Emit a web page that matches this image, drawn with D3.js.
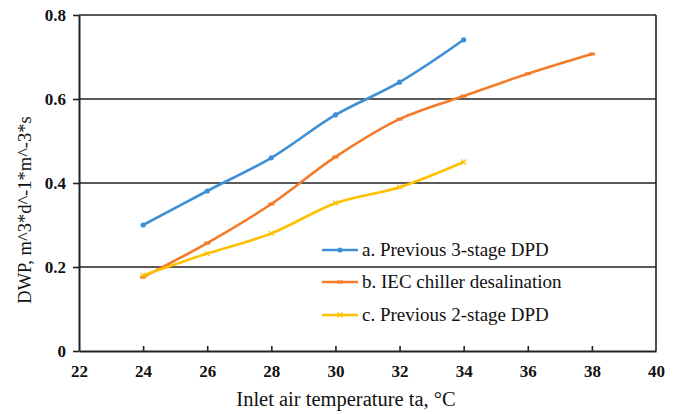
<!DOCTYPE html>
<html><head><meta charset="utf-8">
<script src="https://cdn.jsdelivr.net/npm/d3@7/dist/d3.min.js"></script>
<style>body{margin:0;background:#fff;}svg{display:block;}text{font-family:"Liberation Serif","Times New Roman",serif;}</style>
</head><body><svg id="c" width="677" height="414"></svg>
<script>
const xTicks = [22,24,26,28,30,32,34,36,38,40];
const yTicks = [0,0.2,0.4,0.6,0.8];
const xA = [24,26,28,30,32,34];
const valA = [0.30,0.381,0.46,0.562,0.64,0.741];
const xB = [24,26,28,30,32,34,36,38];
const valB = [0.176,0.257,0.35,0.462,0.552,0.607,0.66,0.707];
const xC = [24,26,28,30,32,34];
const valC = [0.18,0.232,0.28,0.352,0.39,0.45];
const names = ["a. Previous 3-stage DPD","b. IEC chiller desalination","c. Previous 2-stage DPD"];
const colors = ["#3f8fd8","#f47b28","#ffc000"];

const svg = d3.select("#c");
const L=79, R=656, T=15, B=351;
const x = d3.scaleLinear().domain([22,40]).range([L,R]);
const y = d3.scaleLinear().domain([0,0.8]).range([B,T]);

svg.append("g").selectAll("line").data(yTicks.filter(d=>d>0)).join("line")
  .attr("x1",L).attr("x2",R).attr("y1",d=>y(d)).attr("y2",d=>y(d))
  .attr("stroke","#222").attr("stroke-width",1.6);
svg.append("line").attr("x1",R).attr("x2",R).attr("y1",T).attr("y2",B).attr("stroke","#222").attr("stroke-width",1.6);

const yAxis = d3.axisLeft(y).tickValues(yTicks).tickFormat(d=>d===0?"0":d3.format(".1f")(d)).tickSize(6).tickSizeOuter(0);
const gy = svg.append("g").attr("transform",`translate(${L},0)`).call(yAxis);
const xAxis = d3.axisBottom(x).tickValues(xTicks).tickFormat(d3.format("d")).tickSize(-5).tickSizeOuter(0);
const gx = svg.append("g").attr("transform",`translate(0,${B})`).call(xAxis);
[gy,gx].forEach(g=>{
  g.select(".domain").attr("stroke","#222").attr("stroke-width",2);
  g.selectAll(".tick line").attr("stroke","#222").attr("stroke-width",1.6);
  g.selectAll(".tick text").attr("font-family","Liberation Serif").attr("font-weight","bold").attr("font-size",17).attr("fill","#111");
});
gy.selectAll(".tick text").attr("x",-13);
gx.selectAll(".tick").filter(d=>d===22||d===40).select("line").remove();
gx.selectAll(".tick text").attr("y",14);

svg.append("text").attr("x",346).attr("y",406).attr("text-anchor","middle").attr("font-size",20.5).attr("fill","#111").text("Inlet air temperature ta, °C");
svg.append("text").attr("transform",`translate(31,210) rotate(-90)`).attr("text-anchor","middle").attr("font-size",18.5).attr("fill","#111").text("DWP, m^3*d^-1*m^-3*s");

const series = [
  {xs:xA, vs:valA, c:colors[0], m:"dot"},
  {xs:xB, vs:valB, c:colors[1], m:"dash"},
  {xs:xC, vs:valC, c:colors[2], m:"x"}
];
const line = d3.line().x(d=>x(d[0])).y(d=>y(d[1])).curve(d3.curveCatmullRom.alpha(0.5));
function marker(g, px, py, m, c){
  if(m==="dot") g.append("circle").attr("cx",px).attr("cy",py).attr("r",2.6).attr("fill",c);
  else if(m==="dash") g.append("line").attr("x1",px-3).attr("x2",px+3).attr("y1",py).attr("y2",py).attr("stroke",c).attr("stroke-width",3);
  else { g.append("path").attr("d",`M${px-2.5},${py-2.5}L${px+2.5},${py+2.5}M${px-2.5},${py+2.5}L${px+2.5},${py-2.5}`).attr("stroke",c).attr("stroke-width",1.2); }
}
series.forEach(s=>{
  const pts = s.xs.map((v,i)=>[v,s.vs[i]]);
  svg.append("path").attr("d",line(pts)).attr("fill","none").attr("stroke",s.c).attr("stroke-width",2.6);
  const g = svg.append("g");
  pts.forEach(p=>marker(g,x(p[0]),y(p[1]),s.m,s.c));
});

const ly = [250,282,315];
names.forEach((n,i)=>{
  svg.append("line").attr("x1",322).attr("x2",358).attr("y1",ly[i]).attr("y2",ly[i]).attr("stroke",colors[i]).attr("stroke-width",2.6);
  const g = svg.append("g");
  marker(g,340,ly[i],series[i].m,colors[i]);
  svg.append("text").attr("x",362).attr("y",ly[i]+6).attr("font-size",19).attr("fill","#111").text(n);
});
</script></body></html>
